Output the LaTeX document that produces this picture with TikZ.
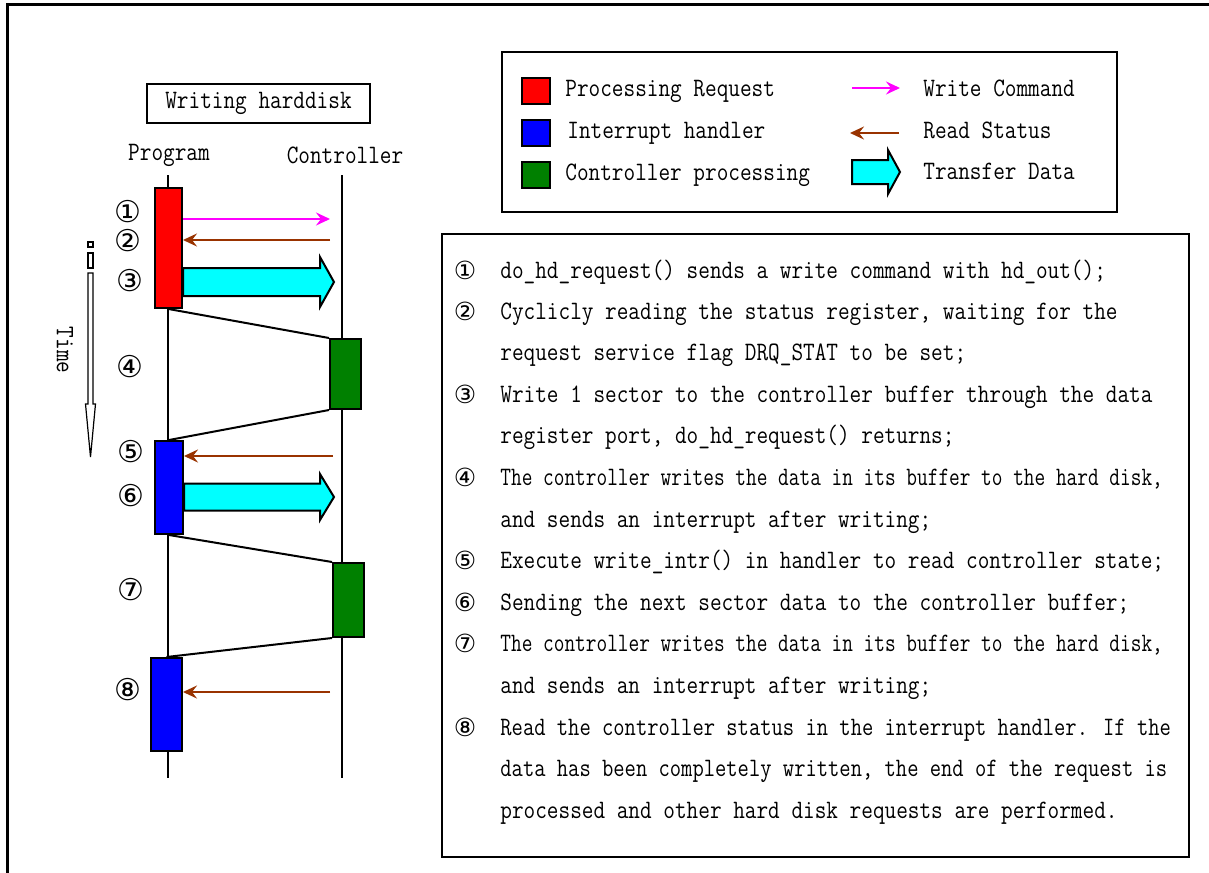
\documentclass[tikz,border=0pt]{standalone}
\usepackage{fontspec}
\usepackage{graphicx}
\usetikzlibrary{arrows.meta,positioning,calc}
\newfontfamily\circfont{DejaVu Sans}
\newcommand\narrow[2][0.85]{\scalebox{#1}[1]{#2}}
\definecolor{reqred}{HTML}{FF0000}
\definecolor{irqblue}{HTML}{0000FF}
\definecolor{ctlgreen}{HTML}{008000}
\definecolor{xfercyan}{HTML}{00FFFF}
\definecolor{cmdpink}{HTML}{FF00FF}
\definecolor{statbrown}{HTML}{993300}
\tikzset{
  >={Stealth[length=7pt,width=6.5pt,inset=2.5pt]},
  % tidslinjer
  life/.style={draw=black,line width=0.8pt},
  act/.style={draw=black,line width=1pt,inner sep=0pt},
  req/.style={act,fill=reqred},
  irq/.style={act,fill=irqblue},
  ctl/.style={act,fill=ctlgreen},
  hop/.style={draw=black,line width=1pt},
  wcmd/.style={->,draw=cmdpink,line width=1.2pt},
  rstat/.style={->,draw=statbrown,line width=1.2pt},
  xfer/.style={draw=black,fill=xfercyan,line width=1pt,line join=miter},
  num/.style={font=\fontsize{15}{17}\circfont,inner sep=0pt},
  lbl/.style={font=\fontsize{13.3}{15}\ttfamily,inner sep=0pt},
  % rutor
  boxline/.style={draw=black,line width=1pt,inner sep=0pt},
  swatch/.style={act,minimum width=14pt,minimum height=13pt},
  txt/.style={lbl,anchor=base west},
  tnum/.style={font=\fontsize{12.5}{14}\circfont,inner sep=0pt},
}

\begin{document}
\begin{tikzpicture}[x=0.5pt,y=-0.5pt]
\useasboundingbox (0,0) rectangle (1209,872);
  \draw[line width=1.5pt] (7,880) |- (1215,5);
  % sekvens
  \node[lbl,boxline,minimum width=111.5pt,minimum height=19.5pt] (title) at (258.5,103.5) {\narrow{Writing harddisk}};
  \node[lbl] (prog) at (169,155) {\narrow{Program}};
  \node[lbl] (ctrl) at (345,155) {\narrow{Controller}};
  \coordinate (ptop) at (168,175);
  \coordinate (pbot) at (168,778);
  \coordinate (ctop) at (342,175);
  \coordinate (cbot) at (342,778);
  \draw[life] (ptop) -- (pbot);
  \draw[life] (ctop) -- (cbot);
  \node[req,minimum width=13.5pt,minimum height=60pt] (rq1) at (168.5,248) {};
  \node[ctl,minimum width=15.5pt,minimum height=35pt] (cp1) at (345.5,374) {};
  \node[irq,minimum width=14pt,minimum height=46.5pt] (ih1) at (169,487.5) {};
  \node[ctl,minimum width=15.5pt,minimum height=37pt] (cp2) at (348.5,600) {};
  \node[irq,minimum width=15.5pt,minimum height=46.5pt] (ih2) at (166.5,704.5) {};
  \draw[hop] (rq1.south) -- (cp1.north west);
  \draw[hop] (cp1.south west) -- (ih1.north);
  \draw[hop] (ih1.south) -- (cp2.north west);
  \draw[hop] (cp2.south west) -- (ih2.north);
  \coordinate (c1) at (330,219);
  \coordinate (c2) at (330,240);
  \coordinate (c3) at (334,282);
  \coordinate (c5) at (333,456);
  \coordinate (c6) at (334,497);
  \coordinate (c8) at (330,692);
  \draw[wcmd] (rq1.east |- c1) -- (c1);
  \draw[rstat] (c2) -- (rq1.east |- c2);
  \draw[xfer] (rq1.east |- c3) ++(0,-14) -| ($(c3)+(-14,-25)$) -- (c3) -- ++(-14,25) |- ($(rq1.east |- c3)+(0,14)$) -- cycle;
  \draw[rstat] (c5) -- (ih1.east |- c5);
  \draw[xfer] (ih1.east |- c6) ++(0,-13.5) -| ($(c6)+(-14,-23)$) -- (c6) -- ++(-14,23) |- ($(ih1.east |- c6)+(0,13.5)$) -- cycle;
  \draw[rstat] (c8) -- (ih2.east |- c8);
  \node[num] (n1) at (128,212) {①};
  \node[num] (n2) at (128,241) {②};
  \node[num] (n3) at (130,281) {③};
  \node[num] (n4) at (130,367) {④};
  \node[num] (n5) at (131,452) {⑤};
  \node[num] (n6) at (131,496) {⑥};
  \node[num] (n7) at (131,590) {⑦};
  \node[num] (n8) at (128,690) {⑧};
  % tidspil
  \draw[line width=0.6pt] (88,242) rectangle (93,247);
  \draw[line width=0.6pt] (88,253) rectangle (93,268);
  \draw[line width=0.6pt] (88,273) -- (88,404) -- (85.5,404) -- (90.5,457) -- (95.5,404) -- (93,404) -- (93,273) -- cycle;
  \node[lbl,rotate=-90] (time) at (65,350) {\narrow{Time}};
  % teckenförklaring
  \node[boxline,minimum width=307.5pt,minimum height=80pt] (legend) at (809.5,132) {};
  \node[swatch,fill=reqred] (sw1) at (536,91) {};
  \node[swatch,fill=irqblue] (sw2) at (536,133) {};
  \node[swatch,fill=ctlgreen] (sw3) at (536,175) {};
  \node[lbl,anchor=west] (k1) at (565,91) {\narrow{Processing Request}};
  \node[lbl,anchor=west] (k2) at (567,133) {\narrow{Interrupt handler}};
  \node[lbl,anchor=west] (k3) at (565,175) {\narrow{Controller processing}};
  \coordinate (la) at (852,88);
  \coordinate (lb) at (900,88);
  \coordinate (lc) at (899,133);
  \coordinate (ld) at (850,133);
  \coordinate (le) at (852,172);
  \coordinate (lf) at (900,172);
  \draw[wcmd] (la) -- (lb);
  \draw[rstat] (lc) -- (ld);
  \draw[xfer] (le) ++(0,-12) -| ($(lf)+(-12,-22)$) -- (lf) -- ++(-12,22) |- ($(le)+(0,12)$) -- cycle;
  \node[lbl,anchor=west] (k4) at (923,88) {\narrow{Write Command}};
  \node[lbl,anchor=west] (k5) at (923,130) {\narrow{Read Status}};
  \node[lbl,anchor=west] (k6) at (923,171) {\narrow{Transfer Data}};
  % förklaring
  \node[boxline,minimum width=373.5pt,minimum height=311.5pt] (notes) at (815.5,545.5) {};
  \node[tnum] (m1) at (465,270) {①};
  \node[tnum] (m2) at (465,311) {②};
  \node[tnum] (m3) at (465,394) {③};
  \node[tnum] (m4) at (465,477) {④};
  \node[tnum] (m5) at (465,560) {⑤};
  \node[tnum] (m6) at (465,602) {⑥};
  \node[tnum] (m7) at (465,643) {⑦};
  \node[tnum] (m8) at (465,727) {⑧};
  \node[txt] (t1) at (500,278) {\narrow{do\_hd\_request() sends a write command with hd\_out();}};
  \node[txt] (t2) at (500,319) {\narrow{Cyclicly reading the status register, waiting for the}};
  \node[txt] (t2b) at (500,360) {\narrow{request service flag DRQ\_STAT to be set;}};
  \node[txt] (t3) at (500,402) {\narrow{Write 1 sector to the controller buffer through the data}};
  \node[txt] (t3b) at (500,443) {\narrow{register port, do\_hd\_request() returns;}};
  \node[txt] (t4) at (500,485) {\narrow[0.78]{The controller writes the data in its buffer to the hard disk,}};
  \node[txt] (t4b) at (500,527) {\narrow{and sends an interrupt after writing;}};
  \node[txt] (t5) at (500,568) {\narrow{Execute write\_intr() in handler to read controller state;}};
  \node[txt] (t6) at (500,610) {\narrow{Sending the next sector data to the controller buffer;}};
  \node[txt] (t7) at (500,651) {\narrow[0.78]{The controller writes the data in its buffer to the hard disk,}};
  \node[txt] (t7b) at (500,693) {\narrow{and sends an interrupt after writing;}};
  \node[txt] (t8) at (500,735) {\narrow[0.825]{Read the controller status in the interrupt handler. If the}};
  \node[txt] (t8b) at (500,776) {\narrow[0.825]{data has been completely written, the end of the request is}};
  \node[txt] (t8c) at (500,818) {\narrow{processed and other hard disk requests are performed.}};
\end{tikzpicture}
\end{document}
